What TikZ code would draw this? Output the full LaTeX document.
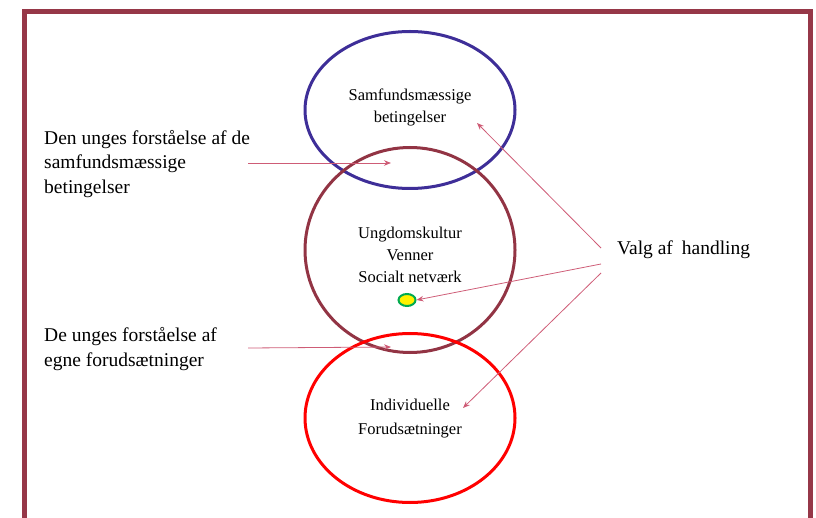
\documentclass[tikz,border=0pt]{standalone}
\usepackage{fontspec}
\setmainfont{Liberation Serif}
\usetikzlibrary{shapes.geometric,arrows.meta}
\definecolor{ramme}{RGB}{150,55,72}
\definecolor{blaa}{RGB}{62,46,152}
\definecolor{bordeaux}{RGB}{146,52,68}
\definecolor{pil}{RGB}{206,92,118}
\definecolor{groen}{RGB}{0,170,80}
\begin{document}
\begin{tikzpicture}[x=1pt,y=-1pt,
  cirkel/.style={ellipse,draw,line width=3pt,minimum width=210pt,inner sep=0pt},
  cirkeltekst/.style={align=center,inner sep=0pt,font=\fontsize{16.5}{22}\selectfont},
  tekst/.style={anchor=west,align=left,inner sep=0pt,font=\fontsize{19.5}{24.5}\selectfont},
  pilen/.style={draw=pil,line width=0.8pt,-{Stealth[length=7pt,width=5.5pt]}}]
\clip (0,0) rectangle (816,518);
\draw[ramme,line width=5pt] (24,12) rectangle (810.5,540);
\node[cirkel,draw=blaa,minimum height=157pt] (samf) at (410,110) {};
\node[cirkel,draw=bordeaux,minimum height=205pt] (ungdom) at (410,250) {};
\node[cirkel,draw=red,minimum height=169pt] (indiv) at (410,418) {};
\node[cirkeltekst] (samftxt) at (410,107) {Samfundsmæssige\\betingelser};
\node[cirkeltekst] (ungdomtxt) at (410,255) {Ungdomskultur\\Venner\\Socialt netværk};
\node[cirkeltekst,font=\fontsize{16.5}{24}\selectfont] (indivtxt) at (410,419) {Individuelle\\Forudsætninger};
\node[ellipse,draw=groen,fill=yellow,line width=2pt,minimum width=17pt,minimum height=12pt,inner sep=0pt] (prik) at (407,300) {};
\node[tekst] (samflbl) at (44,164) {Den unges forståelse af de\\samfundsmæssige\\betingelser};
\node[tekst] (egnelbl) at (44,349) {De unges forståelse af\\egne forudsætninger};
\node[tekst] (valg) at (617,250) {Valg af\hspace{4pt} handling};
\coordinate (fra1) at (248,163);
\coordinate (til1) at (391,163);
\coordinate (fra2) at (248,348);
\coordinate (til2) at (391,347);
\coordinate (v1) at (601,248);
\coordinate (v2) at (601,264);
\coordinate (v3) at (601,273);
\coordinate (samfpkt) at (477,123);
\coordinate (indivpkt) at (463,408);
\draw[pilen] (fra1) -- (til1);
\draw[pilen] (fra2) -- (til2);
\draw[pilen] (v1) -- (samfpkt);
\draw[pilen] (v2) -- (prik.east);
\draw[pilen] (v3) -- (indivpkt);
\end{tikzpicture}
\end{document}
